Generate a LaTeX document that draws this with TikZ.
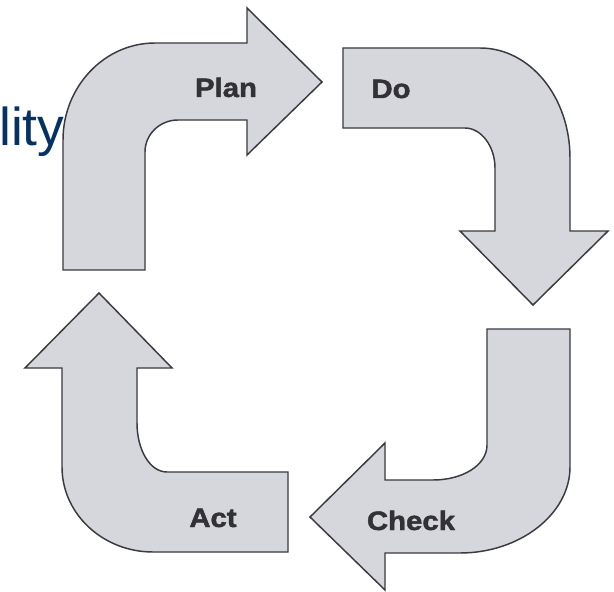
\documentclass[tikz,border=0pt]{standalone}
\usepackage{fontspec}
\usepackage{graphicx}
\setmainfont{Liberation Sans}
\newfontfamily\heavyfont[FakeBold=1.6]{Liberation Sans Bold}
\definecolor{arrowfill}{RGB}{214,214,221}
\definecolor{arrowline}{RGB}{58,58,64}
\definecolor{labeltext}{RGB}{50,50,54}
\definecolor{navy}{RGB}{4,50,100}
\begin{document}
\begin{tikzpicture}[x=0.75pt,y=-0.75pt,
  bigarrow/.style={fill=arrowfill,draw=arrowline,line width=1.1pt,line join=miter},
  steplabel/.style={font=\heavyfont\fontsize{20}{24}\selectfont,text=labeltext,anchor=base,inner sep=0pt}]
\useasboundingbox (0,0) rectangle (614,592);
\fill[white] (0,0) rectangle (614,592);
% Plan
\path[bigarrow] (63,270) -- (63,140) .. controls (63,87) and (104,43) .. (155,43)
  -- (247,43) -- (247,8) -- (322,82) -- (247,155) -- (247,120) -- (178,120)
  .. controls (160,120) and (145,134) .. (145,152) -- (145,270) -- cycle;
% Do
\path[bigarrow] (343,48) -- (480,48) .. controls (530,48) and (570,97) .. (570,158)
  -- (570,231) -- (608,231) -- (533,305) -- (460,231) -- (495,231) -- (495,168)
  .. controls (495,146) and (481,128) .. (465,128) -- (343,128) -- cycle;
% Check
\path[bigarrow] (487,329) -- (570,329) -- (570,467) .. controls (570,514) and (520,553) .. (460,553)
  -- (385,553) -- (385,590) -- (310,517) -- (385,443) -- (385,480) -- (433,480)
  .. controls (463,480) and (487,465) .. (487,445) -- cycle;
% Act
\path[bigarrow] (288,472) -- (288,552) -- (153,552) .. controls (103,552) and (62,514) .. (62,467)
  -- (62,368) -- (25,368) -- (99,293) -- (172,368) -- (137,368) -- (137,423)
  .. controls (137,450) and (150,472) .. (167,472) -- cycle;
\node[steplabel] (plan) at (226,97) {\scalebox{1.1}[1]{Plan}};
\node[steplabel] (do) at (391,98) {\scalebox{1.1}[1]{Do}};
\node[steplabel] (check) at (411,530) {\scalebox{1.1}[1]{Check}};
\node[steplabel] (act) at (213,527) {\scalebox{1.1}[1]{Act}};
\node[font=\fontsize{40}{48}\selectfont,text=navy,anchor=base west,inner sep=0pt] (lity) at (-1,145) {lity};
\end{tikzpicture}
\end{document}
